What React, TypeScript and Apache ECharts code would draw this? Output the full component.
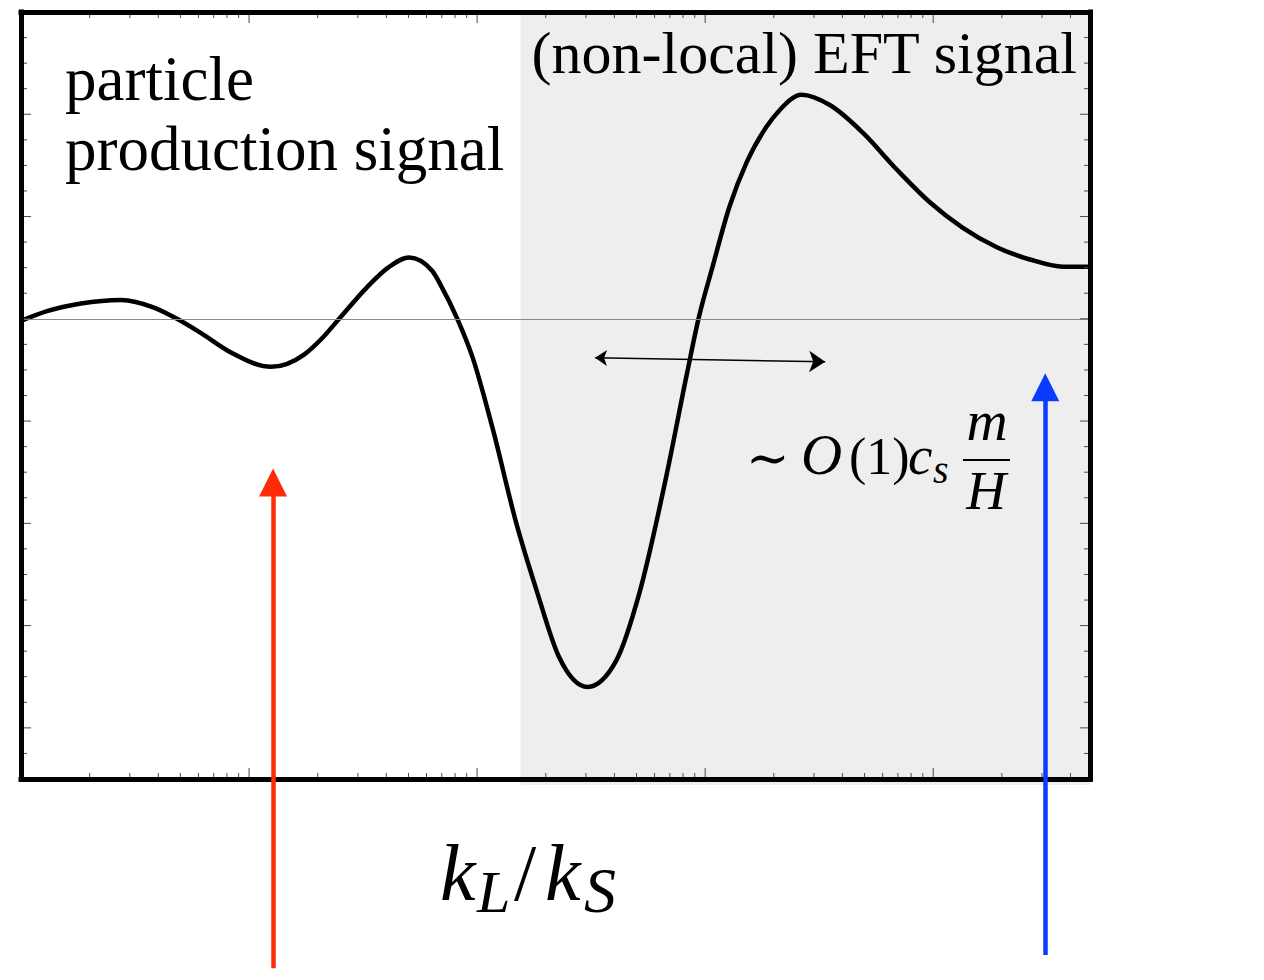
import React, { useEffect, useRef } from "react";
import * as echarts from "echarts";

// Curve: k_L/k_S against the squeezed-limit signal
const kRatio = [
  0.1, 0.13, 0.183, 0.274, 0.383, 0.483, 0.616, 0.834, 1.249, 1.743, 2.09, 2.483, 3.296, 4.07,
  5.04, 6.35, 6.96, 8.19, 9.53, 11.66, 14.86, 18.2, 22.9, 30.5, 40.8, 51.5, 67.7, 82.8, 93.5,
  107.8, 128, 152, 186, 212, 265, 352, 491, 692, 966, 1349, 1901, 2655, 3707, 4870,
];
const signal = [
  -0.02, 0.075, 0.15, 0.185, 0.11, 0, -0.14, -0.33, -0.47, -0.35, -0.19, 0, 0.31, 0.5,
  0.6, 0.47, 0.32, 0, -0.37, -1.06, -2.0, -2.65, -3.31, -3.6, -3.34, -2.68, -1.53, -0.56, 0,
  0.51, 1.1, 1.53, 1.88, 2.04, 2.19, 2.09, 1.82, 1.46, 1.14, 0.89, 0.7, 0.58, 0.51, 0.51,
];

// Axis extents
const X_MIN = 0.1;
const X_MAX = 4870;
const Y_MIN = -4.5;
const Y_MAX = 3;

// Start of the shaded EFT region
const SHADE_START = 15.5;

// Tick marks (no labels are drawn)
const xMajorTicks = [1, 10, 100, 1000];
const xMinorTicks = [
  0.2, 0.3, 0.4, 0.5, 0.6, 0.7, 0.8, 0.9,
  2, 3, 4, 5, 6, 7, 8, 9,
  20, 30, 40, 50, 60, 70, 80, 90,
  200, 300, 400, 500, 600, 700, 800, 900,
  2000, 3000, 4000,
];
const yMajorTicks = [-4, -3, -2, -1, 0, 1, 2];
const yMinorTicks = [
  -4.25, -3.75, -3.5, -3.25, -2.75, -2.5, -2.25, -1.75, -1.5, -1.25,
  -0.75, -0.5, -0.25, 0.25, 0.5, 0.75, 1.25, 1.5, 1.75, 2.25, 2.5, 2.75,
];

// Oscillation-period marker: [k, signal] at each end
const periodArrow = [
  [32.9, -0.38],
  [336, -0.42],
];
// Vertical pointers: [k, lower end, head]
const redPointer = [1.274, -6.35, -1.6];
const bluePointer = [3100, -6.22, -0.67];

const SERIF = '"Liberation Serif", "Times New Roman", serif';

function label(
  text: string,
  x: number,
  baseline: number,
  size: number,
  opts: { italic?: boolean; align?: string; family?: string } = {}
) {
  const family = opts.family || SERIF;
  const align = opts.align || "left";
  return {
    type: "text",
    z: 50,
    silent: true,
    style: {
      text,
      x,
      y: baseline - 0.34 * size,
      font: `${opts.italic ? "italic " : ""}${size}px ${family}`,
      fill: "#000",
      align,
      textAlign: align,
      verticalAlign: "middle",
      textVerticalAlign: "middle",
    },
  };
}

// Monotone-in-x cubic through pixel points, as Bezier path data
function monotonePath(pts: number[][]): string {
  const n = pts.length;
  if (n < 2) return "";
  const sign = (v: number) => (v < 0 ? -1 : 1);
  const t: number[] = new Array(n).fill(0);
  for (let i = 1; i < n - 1; i++) {
    const h0 = pts[i][0] - pts[i - 1][0];
    const h1 = pts[i + 1][0] - pts[i][0];
    const s0 = (pts[i][1] - pts[i - 1][1]) / h0;
    const s1 = (pts[i + 1][1] - pts[i][1]) / h1;
    const p = (s0 * h1 + s1 * h0) / (h0 + h1);
    t[i] = (sign(s0) + sign(s1)) * Math.min(Math.abs(s0), Math.abs(s1), 0.5 * Math.abs(p)) || 0;
  }
  const end = (a: number[], b: number[], tb: number) => {
    const h = b[0] - a[0];
    return h ? ((3 * (b[1] - a[1])) / h - tb) / 2 : tb;
  };
  t[0] = end(pts[0], pts[1], t[1]);
  t[n - 1] = end(pts[n - 2], pts[n - 1], t[n - 2]);
  let d = `M${pts[0][0]},${pts[0][1]}`;
  for (let i = 0; i < n - 1; i++) {
    const [x0, y0] = pts[i];
    const [x1, y1] = pts[i + 1];
    const dx = (x1 - x0) / 3;
    d += ` C${x0 + dx},${y0 + dx * t[i]} ${x1 - dx},${y1 - dx * t[i + 1]} ${x1},${y1}`;
  }
  return d;
}

export default function App() {
  const ref = useRef<HTMLDivElement>(null);

  useEffect(() => {
    if (!ref.current) return;
    const chart = echarts.init(ref.current, undefined, { renderer: "svg" });

    const frameLine = { show: true, onZero: false, lineStyle: { color: "#000", width: 5, cap: "square" } };
    const hidden = {
      axisTick: { show: false },
      axisLabel: { show: false },
      splitLine: { show: false },
      minorTick: { show: false },
      minorSplitLine: { show: false },
    };

    const curveData = kRatio.map((k, i) => [k, signal[i]]);
    const xTickData = [
      ...xMajorTicks.map((v) => [v, 1]),
      ...xMinorTicks.map((v) => [v, 0]),
    ];
    const yTickData = [
      ...yMajorTicks.map((v) => [X_MIN, v, 1]),
      ...yMinorTicks.map((v) => [X_MIN, v, 0]),
    ];
    const tickStyle = { stroke: "#4a4a4a", lineWidth: 1 };

    chart.setOption({
      animation: false,
      backgroundColor: "#fff",
      grid: { left: 21, top: 12, width: 1069, height: 767 },
      xAxis: [
        { type: "log", logBase: 10, min: X_MIN, max: X_MAX, position: "bottom", z: 10, axisLine: frameLine, ...hidden },
        { type: "log", logBase: 10, min: X_MIN, max: X_MAX, position: "top", z: 10, axisLine: frameLine, ...hidden },
      ],
      yAxis: [
        { type: "value", min: Y_MIN, max: Y_MAX, position: "left", z: 10, axisLine: frameLine, ...hidden },
        { type: "value", min: Y_MIN, max: Y_MAX, position: "right", z: 10, axisLine: frameLine, ...hidden },
      ],
      series: [
        {
          // shaded EFT region, running slightly below the frame
          type: "custom",
          z: 1,
          silent: true,
          clip: false,
          data: [[SHADE_START, X_MAX]],
          renderItem: (_p: any, api: any) => {
            const a = api.coord([api.value(0), Y_MAX]);
            const b = api.coord([api.value(1), Y_MIN]);
            return {
              type: "rect",
              shape: { x: a[0], y: a[1], width: b[0] - a[0], height: b[1] - a[1] + 6 },
              style: { fill: "#eeeeee" },
            };
          },
        },
        {
          // zero line
          type: "line",
          z: 3,
          data: [],
          silent: true,
          markLine: {
            silent: true,
            symbol: "none",
            label: { show: false },
            lineStyle: { color: "#8a8a8a", width: 1, type: "solid" },
            data: [{ yAxis: 0 }],
          },
        },
        {
          // the signal curve, drawn as one smooth path through the data
          type: "custom",
          z: 4,
          silent: true,
          clip: false,
          data: curveData,
          renderItem: (params: any, api: any) => {
            if (params.dataIndex !== 0) return null;
            const pts = curveData.map((d) => api.coord(d));
            return {
              type: "path",
              shape: { pathData: monotonePath(pts) },
              style: { fill: "none", stroke: "#000", lineWidth: 4.5, lineJoin: "round", lineCap: "butt" },
            };
          },
        },
        {
          // x tick marks, bottom and top
          type: "custom",
          z: 6,
          silent: true,
          clip: false,
          data: xTickData,
          renderItem: (_p: any, api: any) => {
            const v = api.value(0);
            const len = api.value(1) ? 11 : 6;
            const b = api.coord([v, Y_MIN]);
            const t = api.coord([v, Y_MAX]);
            return {
              type: "group",
              children: [
                { type: "line", shape: { x1: b[0], y1: b[1], x2: b[0], y2: b[1] - len }, style: tickStyle },
                { type: "line", shape: { x1: t[0], y1: t[1], x2: t[0], y2: t[1] + len }, style: tickStyle },
              ],
            };
          },
        },
        {
          // y tick marks, left and right
          type: "custom",
          z: 6,
          silent: true,
          clip: false,
          data: yTickData,
          renderItem: (_p: any, api: any) => {
            const v = api.value(1);
            const len = api.value(2) ? 10 : 6;
            const l = api.coord([X_MIN, v]);
            const r = api.coord([X_MAX, v]);
            return {
              type: "group",
              children: [
                { type: "line", shape: { x1: l[0], y1: l[1], x2: l[0] + len, y2: l[1] }, style: tickStyle },
                { type: "line", shape: { x1: r[0], y1: r[1], x2: r[0] - len, y2: r[1] }, style: tickStyle },
              ],
            };
          },
        },
        {
          type: "lines",
          coordinateSystem: "cartesian2d",
          z: 7,
          silent: true,
          clip: false,
          symbol: ["arrow", "arrow"],
          symbolSize: [12, 16],
          lineStyle: { color: "#000", width: 1.5, opacity: 1, curveness: 0 },
          data: [{ coords: periodArrow }],
        },
        {
          type: "lines",
          coordinateSystem: "cartesian2d",
          z: 20,
          silent: true,
          clip: false,
          symbol: ["none", "triangle"],
          symbolSize: [22, 28],
          lineStyle: { color: "#ff2a08", width: 4.5, opacity: 1, curveness: 0 },
          data: [{ coords: [[redPointer[0], redPointer[1]], [redPointer[0], redPointer[2]]] }],
        },
        {
          type: "lines",
          coordinateSystem: "cartesian2d",
          z: 20,
          silent: true,
          clip: false,
          symbol: ["none", "triangle"],
          symbolSize: [20, 28],
          lineStyle: { color: "#0a3cff", width: 4.5, opacity: 1, curveness: 0 },
          data: [{ coords: [[bluePointer[0], bluePointer[1]], [bluePointer[0], bluePointer[2]]] }],
        },
      ],
      graphic: [
        label("particle", 65, 100, 63),
        label("production signal", 65, 170, 63),
        label("(non-local) EFT signal", 1077, 73, 60, { align: "right" }),
        // ~ O(1) c_s m/H
        label("\u223C", 746, 476, 52, { family: '"DejaVu Serif", serif' }),
        label("O", 801, 474, 57, { italic: true }),
        label("(1)", 849, 474, 52),
        label("c", 908, 474, 55, { italic: true }),
        label("s", 933, 483, 40, { italic: true }),
        label("m", 987, 440, 57, { italic: true, align: "center" }),
        {
          type: "line",
          z: 50,
          silent: true,
          shape: { x1: 963, y1: 460, x2: 1010, y2: 460 },
          style: { stroke: "#000", lineWidth: 2 },
        },
        label("H", 986, 509, 55, { italic: true, align: "center" }),
        // k_L / k_S
        label("k", 440, 900, 80, { italic: true }),
        label("L", 477, 912, 60, { italic: true }),
        label("/", 514, 900, 80),
        label("k", 545, 900, 80, { italic: true }),
        label("S", 584, 912, 64, { italic: true }),
      ],
    });

    return () => chart.dispose();
  }, []);

  return (
    <div
      ref={ref}
      style={{ position: "absolute", left: 0, top: 0, width: 1264, height: 980 }}
    />
  );
}
